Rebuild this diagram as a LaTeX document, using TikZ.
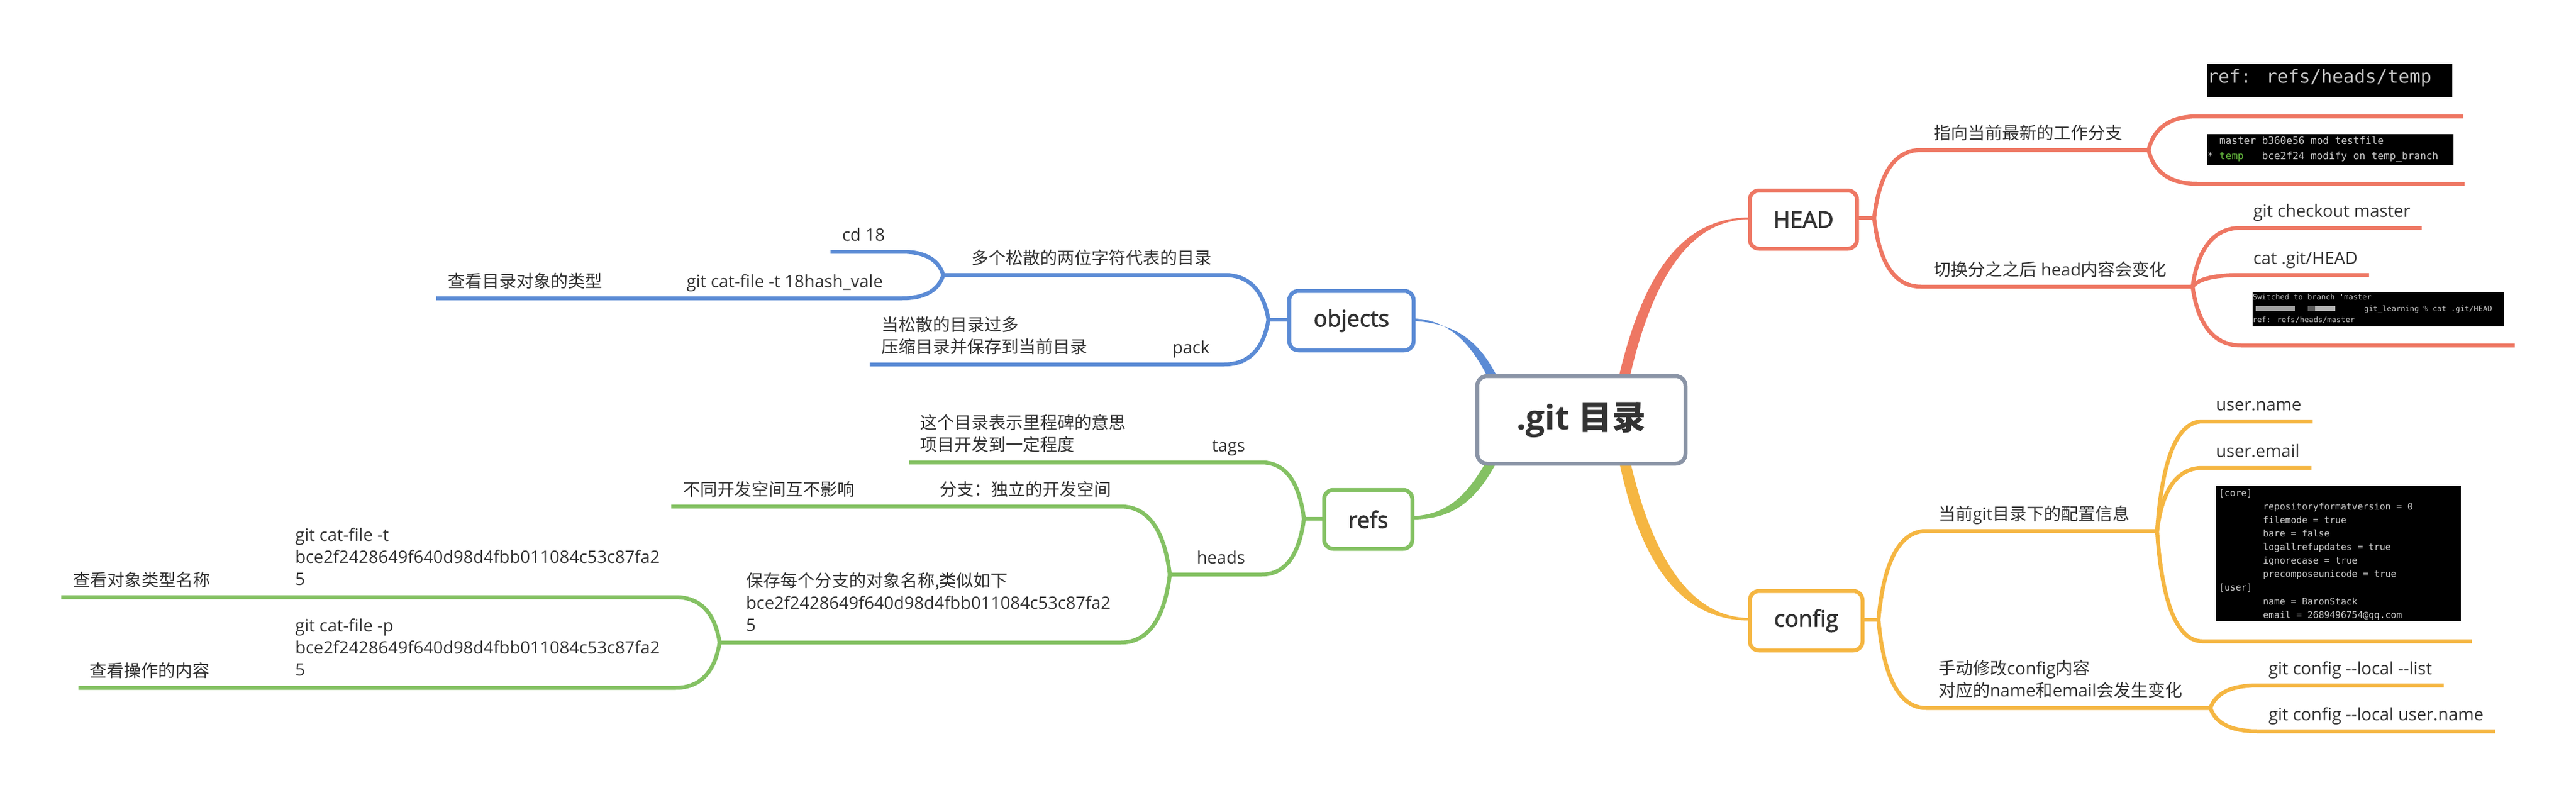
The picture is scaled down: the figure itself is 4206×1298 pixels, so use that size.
\documentclass[tikz,border=0pt]{standalone}
\usepackage{fontspec}
\usetikzlibrary{calc}
\setmainfont{Open Sans}
\newfontfamily\cjk{Noto Sans CJK SC}
\newfontfamily\term{DejaVu Sans Mono}
\newfontfamily\semi[FakeBold=2.5]{Open Sans}
\newcommand{\Z}[1]{{\cjk #1}}
\definecolor{cred}{HTML}{EE7763}
\definecolor{cblue}{HTML}{5B8BD5}
\definecolor{cgreen}{HTML}{84C163}
\definecolor{corange}{HTML}{F5B642}
\definecolor{cgray}{HTML}{8A94A6}
\definecolor{ctext}{HTML}{333333}
\definecolor{cterm}{HTML}{C8C8C8}
\tikzset{
  txt/.style={font=\fontsize{28}{36}\selectfont,text=ctext,inner sep=0pt,outer sep=0pt,align=left,anchor=west,
    execute at begin node=\strut,execute at end node=\strut},
  txtr/.style={txt,anchor=east},
  mainbox/.style={draw=#1,fill=white,line width=6.5pt,rounded corners=15pt,outer sep=0pt,inner sep=0pt,
    text=ctext,font=\semi\fontsize{37}{44}\selectfont},
  rootbox/.style={draw=cgray,fill=white,line width=6.5pt,rounded corners=16pt,outer sep=0pt,inner sep=0pt,
    text=ctext,font=\fontsize{55}{64}\selectfont\bfseries,minimum width=340pt,minimum height=143pt},
  bough/.style={draw=#1,line width=6.5pt,line join=round},
  shot/.style={fill=black,draw=none,inner sep=0pt,outer sep=0pt,anchor=north west},
  termtxt/.style={inner sep=0pt,outer sep=0pt,anchor=west,align=left,text=cterm},
}
% name, start x, y, end x
\newcommand{\topicline}[4]{\coordinate (#1s) at (#2,#3);\coordinate (#1e) at (#4,#3);}
% colour, fork, topic
\newcommand{\limb}[3]{\draw[bough=#1] let \p1=(#2),\p2=(#3s) in (\p1) .. controls ({\x1+0.1*(\x2-\x1)},{\y1+0.6*(\y2-\y1)}) and ({\x1+0.4*(\x2-\x1)},\y2) .. (\p2) -- (#3e);}
\begin{document}
\begin{tikzpicture}[x=1pt,y=-1pt]
\path[use as bounding box,fill=white] (0,0) rectangle (4206,1298);

% main boxes
\node[mainbox=cred,minimum width=175pt,minimum height=95pt] (head) at (2944.5,358.5) {HEAD};
\node[mainbox=corange,minimum width=184pt,minimum height=97pt] (config) at (2949,1013.5) {config};
\node[mainbox=cblue,minimum width=203pt,minimum height=97pt] (objects) at (2206.5,523.5) {objects};
\node[mainbox=cgreen,minimum width=144pt,minimum height=96pt] (refs) at (2234,848) {refs};

% tapered links from the root to the main boxes
\fill[cred] (2642,620) .. controls (2682,448) and (2745,355) .. (head.west |- 0,355) -- (head.west |- 0,358) .. controls (2760,358) and (2698,452) .. (2660,620) -- cycle;
\fill[cblue] (objects.east |- 0,520) .. controls (2365,522) and (2402,560) .. (2431,620) -- (2447,620) .. controls (2420,565) and (2385,528) .. (objects.east |- 0,524) -- cycle;
\fill[cgreen] (refs.east |- 0,843) .. controls (2370,840) and (2400,800) .. (2429,750) -- (2446,750) .. controls (2410,820) and (2370,848) .. (refs.east |- 0,848) -- cycle;
\fill[corange] (2643,750) .. controls (2680,930) and (2750,1013) .. (config.west |- 0,1013) -- (config.west |- 0,1009) .. controls (2765,1009) and (2700,920) .. (2661,750) -- cycle;
\node[rootbox] (root) at (2582,685.5) {.git \Z{目录}};

% forks
\coordinate (fhead) at (3060,356);
\coordinate (fh1) at (3508,245);
\coordinate (fh2) at (3580,468);
\coordinate (fconfig) at (3067,1012);
\coordinate (fc1) at (3522,867);
\coordinate (fc2) at (3609,1156);
\coordinate (fobj) at (2071,522);
\coordinate (fo1) at (1540,449);
\coordinate (frefs) at (2129,847);
\coordinate (fheads) at (1910,938);
\coordinate (fsave) at (1175,1049);

% topic lines
\topicline{h1}{3136}{245}{3508}
\topicline{h2}{3136}{468}{3580}
\topicline{ha}{3587}{190}{4022}
\topicline{hb}{3587}{300}{4024}
\topicline{hc}{3659}{372}{3954}
\topicline{hd}{3659}{449}{3868}
\topicline{he}{3659}{564}{4106}
\topicline{c1}{3145}{867}{3522}
\topicline{c2}{3145}{1156}{3609}
\topicline{ca}{3596}{688}{3776}
\topicline{cb}{3596}{764}{3774}
\topicline{cc}{3596}{1047}{4036}
\topicline{cd}{3686}{1119}{3990}
\topicline{ce}{3686}{1194}{4074}
\topicline{o1}{1999}{449}{1540}
\topicline{o2}{1999}{595}{1420}
\topicline{oa}{1473}{411}{1356}
\topicline{ob}{1473}{487}{712}
\topicline{r1}{2060}{755}{1484}
\topicline{r2}{2060}{938}{1910}
\topicline{ra}{1830}{827}{1096}
\topicline{rb}{1830}{1049}{1175}
\topicline{rc}{1103}{975}{100}
\topicline{rd}{1103}{1123}{128}

% stubs
\draw[bough=cred] (head.east |- fhead) -- (fhead);
\draw[bough=corange] (config.east |- fconfig) -- (fconfig);
\draw[bough=cblue] (objects.west |- fobj) -- (fobj);
\draw[bough=cgreen] (refs.west |- frefs) -- (frefs);

% limbs
\limb{cred}{fhead}{h1}\limb{cred}{fhead}{h2}
\limb{cred}{fh1}{ha}\limb{cred}{fh1}{hb}
\limb{cred}{fh2}{hc}\limb{cred}{fh2}{hd}\limb{cred}{fh2}{he}
\limb{corange}{fconfig}{c1}\limb{corange}{fconfig}{c2}
\limb{corange}{fc1}{ca}\limb{corange}{fc1}{cb}\limb{corange}{fc1}{cc}
\limb{corange}{fc2}{cd}\limb{corange}{fc2}{ce}
\limb{cblue}{fobj}{o1}\limb{cblue}{fobj}{o2}
\limb{cblue}{fo1}{oa}\limb{cblue}{fo1}{ob}
\limb{cgreen}{frefs}{r1}\limb{cgreen}{frefs}{r2}
\limb{cgreen}{fheads}{ra}\limb{cgreen}{fheads}{rb}
\limb{cgreen}{fsave}{rc}\limb{cgreen}{fsave}{rd}

% labels right side
\node[txt] (t1) at (3157,220) {\Z{指向当前最新的工作分支}};
\node[txt] (t2) at (3157,443) {\Z{切换分之之后} head\Z{内容会变化}};
\node[txt] (t3) at (3679,347) {git checkout master};
\node[txt] (t4) at (3679,424) {cat .git/HEAD};
\node[txt] (t5) at (3165,842) {\Z{当前}git\Z{目录下的配置信息}};
\node[txt] (t6) at (3165,1113) {\Z{手动修改}config\Z{内容}\\\Z{对应的}name\Z{和}email\Z{会发生变化}};
\node[txt] (t7) at (3618,663) {user.name};
\node[txt] (t8) at (3618,739) {user.email};
\node[txt] (t9) at (3704,1094) {git config -{}-local -{}-list};
\node[txt] (t10) at (3704,1169) {git config -{}-local user.name};

% labels left side
\node[txt] (t11) at (1586,424) {\Z{多个松散的两位字符代表的目录}};
\node[txt] (t12) at (1375,386) {cd 18};
\node[txt] (t13) at (1121,462) {git cat-file -t 18hash\_vale};
\node[txt] (t14) at (731,462) {\Z{查看目录对象的类型}};
\node[txt] (t15) at (1439,552) {\Z{当松散的目录过多}\\\Z{压缩目录并保存到当前目录}};
\node[txtr] (t16) at (1975,570) {pack};
\node[txt] (t17) at (1502,712) {\Z{这个目录表示里程碑的意思}\\\Z{项目开发到一定程度}};
\node[txtr] (t18) at (2033,730) {tags};
\node[txtr] (t19) at (2033,913) {heads};
\node[txt] (t20) at (1534,802) {\Z{分支：独立的开发空间}};
\node[txt] (t21) at (1115,802) {\Z{不同开发空间互不影响}};
\node[txt] (t22) at (1218,988) {\Z{保存每个分支的对象名称,类似如下}\\bce2f2428649f640d98d4fbb011084c53c87fa2\\5};
\node[txt] (t23) at (482,914) {git cat-file -t\\bce2f2428649f640d98d4fbb011084c53c87fa2\\5};
\node[txt] (t24) at (482,1062) {git cat-file -p\\bce2f2428649f640d98d4fbb011084c53c87fa2\\5};
\node[txt] (t25) at (119,950) {\Z{查看对象类型名称}};
\node[txt] (t26) at (146,1098) {\Z{查看操作的内容}};

% terminal screenshots
\node[shot,minimum width=400pt,minimum height=55pt] (s1) at (3604,104) {};
\node[termtxt,font=\term\fontsize{29.9}{36}\selectfont] (s1t) at (3604,127) {ref: refs/heads/temp};
\node[shot,minimum width=402pt,minimum height=51pt] (s2) at (3604,219) {};
\node[termtxt,font=\term\fontsize{16.5}{25}\selectfont] (s2t) at (3604,243.5) {\hspace*{19.8pt}master b360e56 mod testfile\\* \textcolor[HTML]{62B53C}{temp}\hspace*{29.7pt}bce2f24 modify on temp\_branch};
\node[shot,minimum width=410pt,minimum height=56pt] (s3) at (3678,477) {};
\node[termtxt,font=\term\fontsize{12.4}{18.5}\selectfont] (s3t) at (3678,504) {Switched to branch 'master\\\hspace*{182pt}git\_learning \% cat .git/HEAD\\ref: refs/heads/master};
\fill[cterm!80!black] (3683,500) rectangle (3747,508);
\fill[cterm!45!black] (3768,500) rectangle (3780,508);
\fill[cterm!90!black] (3780,500) rectangle (3813,508);
\node[shot,minimum width=400pt,minimum height=221pt] (s4) at (3618,793) {};
\node[termtxt,font=\term\fontsize{15.07}{22.1}\selectfont] (s4t) at (3623,905.5) {{[core]}\\\hspace*{72pt}repositoryformatversion = 0\\\hspace*{72pt}filemode = true\\\hspace*{72pt}bare = false\\\hspace*{72pt}logallrefupdates = true\\\hspace*{72pt}ignorecase = true\\\hspace*{72pt}precomposeunicode = true\\{[user]}\\\hspace*{72pt}name = BaronStack\\\hspace*{72pt}email = 2689496754@qq.com};
\end{tikzpicture}
\end{document}
